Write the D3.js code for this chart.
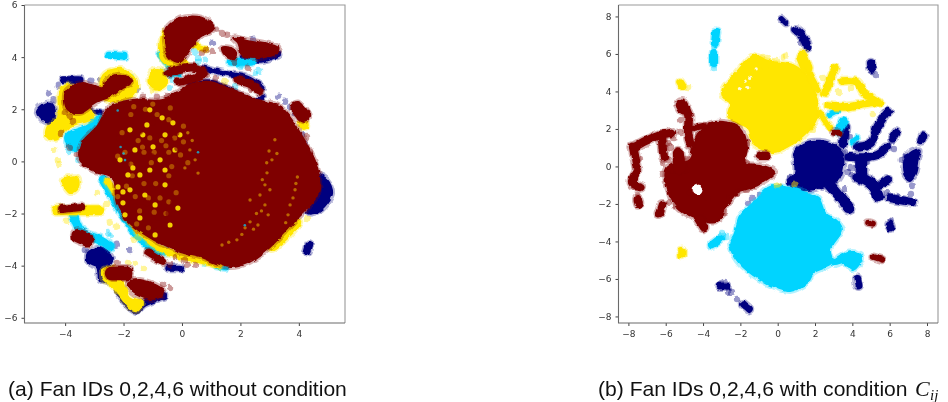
<!DOCTYPE html>
<html><head><meta charset="utf-8">
<script src="https://cdnjs.cloudflare.com/ajax/libs/d3/7.8.5/d3.min.js"></script>
<style>html,body{margin:0;background:#fff}svg{display:block}</style></head>
<body><svg id="c" width="948" height="402">
<defs><filter id="rough" x="-3%" y="-3%" width="106%" height="106%">
<feTurbulence type="fractalNoise" baseFrequency="0.13" numOctaves="2" seed="3" result="n"/>
<feDisplacementMap in="SourceGraphic" in2="n" scale="4.5" xChannelSelector="R" yChannelSelector="G"/>
<feGaussianBlur stdDeviation="0.45"/></filter></defs></svg>
<script>
// ---------- axis ticks ----------
const leftXTicks=[-4,-2,0,2,4], leftYTicks=[-6,-4,-2,0,2,4,6];
const rightXTicks=[-8,-6,-4,-2,0,2,4,6,8], rightYTicks=[-8,-6,-4,-2,0,2,4,6,8];
const captionA="(a) Fan IDs 0,2,4,6 without condition";
const captionB="(b) Fan IDs 0,2,4,6 with condition";

// ---------- LEFT PANEL: dense regions (outlines), streaks and stray points, in data units ----------
const leftNavyAreas=[
 [[-4.97,1.9],[-4.79,2.17],[-4.52,2.25],[-4.35,1.98],[-4.42,1.52],[-4.69,1.52]],
 [[-3.22,-3.51],[-2.81,-3.32],[-2.4,-3.7],[-2.57,-4.17],[-2.47,-4.63],[-2.81,-4.55],[-2.91,-4.09],[-3.22,-3.9]],
 [[4.62,-0.52],[4.97,-0.71],[5.14,-1.21],[4.97,-1.59],[4.62,-1.94],[4.28,-1.98],[4.62,-1.36]]];
const leftNavyThin=[
 [[0.72,3.59],[1.4,3.4],[2.23,3.2],[2.77,2.82]],
 [[0.27,2.94],[0.96,3.05],[1.54,2.8],[2.1,2.45],[2.57,2.32],[2.77,2.5]],
 [[2.1,4.0],[2.7,3.88],[3.3,4.1]],[[-3.25,1.98],[-2.8,1.85]],[[-3.1,0.9],[-2.8,1.2]]];
const leftNavyMid=[
 [[-4.08,3.13],[-3.49,3.13]],[[4.35,-3.17],[4.28,-3.47]],[[-0.45,-4.1],[-0.05,-4.1]],
 [[-2.2,-5.0],[-1.6,-5.7],[-1.3,-5.45],[-0.6,-5.15]]];
const leftNavyDots=[[-4.4,2.35],[-1.55,2.75],[-3.1,3.1],[-2.8,3.1],[2.43,4.67],[1.06,4.55],[3.29,2.48],[3.53,2.29],[3.7,2.09],[4.11,1.02],[4.21,0.7],
 [-1.34,-3.09],[-1.78,-3.4],[-2.23,-3.2],[-3.29,-3.4],[-1.1,-3.05],[-4.55,2.6],[-4.25,2.9],[-0.9,-3.2],[-0.6,-3.45],[3.85,1.85],[-1.7,2.7]];
const leftCyanAreas=[
 [[-3.95,1.0],[-3.3,1.35],[-2.8,1.75],[-2.65,1.3],[-3.2,0.6],[-3.8,0.45]]];
const leftCyanMid=[
 [[-2.5,4.07],[-1.95,4.03]],[[-0.85,3.35],[-0.1,3.4]],
 [[-0.75,4.1],[-0.35,3.55]],[[1.65,3.8],[2.4,3.8]],[[1.2,-4.0],[1.5,-4.05]],[[-2.5,2.5],[-2.05,2.45]]];
const leftCyanWide=[
 [[-3.75,-1.9],[-3.45,-2.7],[-2.85,-3.0],[-2.45,-3.3]],
 [[-2.7,-0.7],[-2.3,-1.47],[-1.88,-2.25],[-1.1,-3.27],[-0.6,-3.45]]];
const leftCyanDots=[[0.45,4.2],[0.55,3.97],[0.79,3.9],[0.55,3.82],[1.64,3.82],[1.99,3.63],[2.09,3.67],[2.5,3.4],[2.64,3.47],[1.82,2.86],
 [-0.65,4.01],[-0.58,3.78],[-0.41,2.82],[-0.34,3.13],[-0.75,3.44],[-1.71,3.24],[-1.75,2.78],[-2.53,-2.71],[-2.47,-2.82],[0.79,-3.93],[-3.9,0.4],[-3.55,0.05]];
const leftYellowAreas=[
 [[-4.18,2.74],[-3.77,2.94],[-3.15,1.98],[-3.05,1.67],[-3.84,1.32],[-4.35,0.83],[-4.62,0.94],[-4.62,1.29],[-4.25,1.71]],
 [[-2.7,3.3],[-2.1,3.55],[-1.55,3.1],[-1.7,2.5],[-2.7,2.4]],
 [[-1.1,2.95],[-1.0,3.5],[-0.7,3.5],[-0.55,3.0],[-0.85,2.75]],
 [[-0.75,4.4],[-0.6,5.0],[-0.1,4.2],[0.2,3.6],[-0.3,3.6],[-0.7,3.9]],
 [[-4.08,-0.71],[-3.6,-0.6],[-3.56,-1.02],[-3.84,-1.21]],
 [[-2.71,-4.17],[-2.29,-4.09],[-1.78,-5.2],[-1.37,-5.39],[-1.54,-5.7],[-1.78,-5.62],[-2.36,-4.82],[-2.71,-4.49]],
 [[3.8,-2.2],[4.05,-2.3],[3.6,-2.95],[3.05,-3.4],[2.9,-3.05]]];
const leftYellowThin=[
 [[-2.55,-0.75],[-2.1,-1.55],[-1.75,-2.3],[-1.0,-3.15],[-0.3,-3.55],[0.6,-3.8],[1.3,-4.0]],[[0.3,4.5],[0.8,4.3]]];
const leftYellowWide=[[[-4.3,-1.87],[-2.8,-1.87]],[[4.15,1.5],[4.17,1.4]]];
const leftYellowDots=[[-4.38,0.44],[-4.25,0.06],[-4.21,-0.1],[-2.47,3.44],[-1.03,2.74],[1.47,3.05],[-2.91,-1.21],[-2.57,-1.63],[-2.47,-2.32],[-2.26,-2.51],
 [-3.94,-2.28],[-1.85,-3.9],[-1.61,-3.93],[-1.3,-4.09],[-2.23,-5.01],[-1.68,-3.01],[-1.51,-2.94],[1.06,-3.97],[4.28,-2.21]];
const leftMaroonAreas=[
 [[0.27,2.94],[0.96,3.05],[1.54,2.82],[2.57,2.36],[3.36,2.09],[4.04,1.09],[4.62,-0.21],[4.66,-1.21],[3.8,-2.36],[3.01,-3.28],[2.23,-3.9],[1.64,-4.05],[0.62,-3.67],[-0.07,-3.47],[-1.2,-2.85],[-1.88,-2.25],[-2.23,-1.59],[-2.36,-0.63],[-3.05,-0.33],[-3.49,0.06],[-3.42,0.71],[-2.91,1.32],[-2.47,2.09],[-1.68,2.36],[-0.65,2.36]],
 [[-0.58,4.55],[-0.51,5.12],[-0.17,5.43],[0.51,5.55],[0.96,5.32],[1.06,5.05],[0.62,4.78],[0.27,4.28],[-0.07,3.82],[-0.41,3.97]],
 [[1.75,4.74],[2.23,4.66],[3.29,4.36],[3.25,4.17],[2.67,3.97],[2.09,4.09],[1.92,4.55]],
 [[1.37,4.36],[1.82,4.28],[1.82,3.97],[1.47,4.09]],
 [[-3.94,2.74],[-3.39,3.01],[-2.71,2.82],[-2.57,3.13],[-2.12,3.32],[-1.71,3.05],[-2.02,2.86],[-2.36,2.55],[-2.91,2.28],[-3.49,1.86],[-3.9,1.98],[-4.01,2.36]],
 [[-1.85,-4.66],[-1.44,-4.55],[-0.65,-4.93],[-0.65,-5.12],[-1.1,-5.28],[-1.68,-5.01]]];
const leftMaroonMid=[
 [[-0.5,3.4],[0.0,3.55],[0.4,3.6],[0.75,3.4],[0.4,3.2],[-0.1,3.05]],
 [[1.9,3.12],[2.3,3.0],[2.65,2.72]],[[-1.15,-3.5],[-0.65,-3.85]],[[-4.1,-1.83],[-3.45,-1.75]]];
const leftMaroonWide=[[[3.95,2.05],[4.15,1.75]],[[-3.55,-2.85],[-3.25,-3.0]],[[-2.4,-4.3],[-1.9,-4.3]]];
const leftMaroonDots=[[-1.34,2.48],[-0.86,2.48],[-0.51,2.51],[-0.31,2.44],[-0.17,3.13],[-4.14,1.09],[-4.01,1.86],[-3.84,1.71],[-3.73,1.55],[-3.84,0.52],[-3.6,0.25],
 [1.2,5.09],[1.37,4.93],[1.54,4.86],[1.06,4.2],[0.82,4.28],[0.68,4.17],[1.78,3.78],[2.26,3.59],[1.16,3.2],[0.89,3.32],[2.33,2.78],
 [-2.23,-3.9],[-0.41,-4.82],[-0.65,-4.7],[-0.24,-3.67],[-0.41,-3.97],[0.17,-3.97],[0.45,-3.97],[0.1,-3.78],[4.28,0.94],[4.38,0.36]];
const leftBandDark=[[-1.5,1.9],[-1.0,1.5],[-0.6,1.3],[-1.6,1.55],[-0.9,0.95],[-1.2,0.7],[-0.4,0.8],[-1.8,0.8],[-1.5,0.2],[-1.05,0.2],[-0.5,0.1],[-1.9,-0.1],[-1.3,-0.1],[-0.8,-0.2],[-2.0,-0.7],[-1.55,-0.75],[-1.1,-0.7],[-0.75,-0.65],[-1.8,-1.4],[-1.45,-1.05],[-1.0,-1.05],[-0.6,-1.25],[-1.6,-1.75],[-1.2,-1.6],[-0.65,-1.75],[-1.7,-2.1],[-1.15,-2.1],[-0.8,-2.15],[-1.35,-2.55],[-0.3,1.75],[-0.15,0.5],
 [-1.9,2.0],[-0.7,2.0],[-0.2,1.1],[-0.1,0.0],[-0.3,-0.75],[-0.45,-2.0],[-2.1,-0.35],[-2.15,0.9],[-2.05,1.75],[-1.85,-1.85],[-0.95,-2.45],[-0.6,-2.45],[-1.3,1.75],[-1.45,1.15],[-0.75,0.55],[-1.25,-1.95],[-0.3,-1.6]];
const leftBandGold=[[-1.2,1.4],[-1.34,1.02],[-0.99,0.56],[-0.68,1.67],[-0.58,1.02],[-0.31,1.48],[-1.68,-0.25],[-1.1,-0.33],[-1.85,-0.52],[-0.58,-0.9],[-1.44,-2.17],[-0.14,-1.79],[-2.19,-0.98],[-2.02,-1.59],[-2.02,-1.17],[-1.78,1.21],[-1.1,1.98],[-1.61,0.44],[-0.75,0.06],[-0.24,0.44],[-1.95,-2.05],[-0.92,-2.82],[-0.41,-2.44],[-1.27,-1.29],[-1.78,-1.09],[-0.92,-1.67],[-1.44,-0.52],[-0.58,-0.33],[-2.12,0.06],[-0.07,1.02]];
const leftBandRing=[[-1.75,1.8],[-1.25,2.0],[-0.85,1.8],[-0.45,1.6],[-1.5,0.8],[-1.1,0.9],[-0.7,0.8],[-0.25,0.9],[-1.95,0.35],[-1.3,0.35],[-0.45,0.35],[-1.75,-0.1],[-1.05,-0.05],[-0.35,-0.2],[-1.9,-0.95],[-1.3,-0.85],[-0.9,-0.85],[-0.45,-0.55],[-1.6,-1.35],[-1.15,-1.4],[-0.75,-1.4],[-0.45,-1.55],[-1.45,-1.9],[-0.95,-1.95],[-0.55,-2.0],[-1.55,-2.4],[-1.15,-2.55],[0.05,0.75],[0.2,-0.05],
 [-2.05,1.1],[-2.2,0.2],[-1.65,2.1],[-1.0,2.2],[-0.4,2.05],[0.05,1.35],[-0.05,0.25],[-0.2,-1.2],[-2.2,-1.35],[-1.7,-0.55],[-0.95,0.35],[-0.55,0.6],[-1.35,0.55]];
const leftFineGold=[[2.91,-0.44],[2.84,-0.9],[2.67,-1.29],[2.84,-1.67],[2.95,-2.05],[2.33,-2.32],[2.6,-2.44],[2.16,-2.55],[1.88,-3.01],[1.37,-3.21],[3.87,-1.09],[3.7,-1.67],[3.63,-2.05],[3.08,0.06],[3.18,0.83],[0.27,0.44],[0.45,0.06],[0.1,-0.25],[2.33,-1.48],[3.01,-1.09],[3.95,-0.6],[2.55,-2.0],
 [2.98,0.4],[2.9,-0.05],[2.75,-0.7],[2.72,-1.9],[2.45,-2.6],[2.05,-2.8],[1.6,-3.1],[3.9,-0.85],[3.8,-1.4],[3.55,-2.35],[3.25,0.3],[0.35,0.8],[0.2,1.1],[0.55,-0.45]];
const leftFineCyan=[[-2.2,1.95],[-2.1,0.55],[-2.0,0.3],[-1.95,0.05],[2.15,-2.45],[0.55,0.35]];

// ---------- RIGHT PANEL ----------
const rightNavyAreas=[
 [[0.93,0.72],[1.62,1.31],[2.8,1.25],[3.44,0.77],[3.5,-0.03],[3.23,-0.72],[2.43,-1.09],[1.73,-1.25],[1.09,-1.25],[0.55,-0.83],[0.93,-0.35]],
 [[7.05,0.72],[7.6,0.9],[7.5,0.35],[7.35,-0.4],[7.05,-0.72],[6.75,-0.35],[6.8,0.3]]];
const rightNavyThin=[[[0.2,7.85],[0.4,7.65]]];
const rightNavyMid=[
 [[3.6,2.1],[3.5,1.2]],[[4.25,1.05],[5.0,1.25],[5.3,2.05],[5.9,2.9]],[[3.85,0.5],[5.3,0.6],[5.85,1.05]],
 [[6.0,-1.7],[7.2,-1.9]],[[5.55,-0.95],[5.9,-0.7]],[[6.35,1.8],[6.15,1.5]],[[7.8,1.65],[7.7,1.4]],[[5.0,5.5],[5.05,5.15]],
 [[0.95,7.3],[1.2,7.1],[1.55,6.6],[1.6,6.35]],[[4.27,-6.0],[4.33,-6.35]],[[6.0,-3.1],[6.05,-3.25]],[[-3.1,-6.4],[-2.75,-6.4]],[[-1.85,-7.35],[-1.55,-7.6]]];
const rightNavyWide=[[[2.8,-1.0],[3.3,-1.6],[3.8,-2.25]],[[4.3,-0.55],[5.1,-1.0],[5.4,-1.6]],[[4.5,0.3],[4.5,-0.6]]];
const rightNavyDots=[[5.0,5.05],[5.26,4.88],[1.2,6.6],[0.87,7.33],[6.05,-2.9],[-2.88,-6.16],[-2.66,-6.69],[-2.45,-6.69],[-2.18,-7.07],[-2.72,-6.48],
 [3.6,-1.2],[0.66,-0.56],[0.12,-1.09],[5.85,-1.42],[6.38,-1.57],[7.14,-1.47],[7.24,-1.04],[3.98,-0.45],[3.77,-0.29],[6.23,0.93],[6.12,1.31],[6.65,0.35],[6.82,0.19],[6.92,0.51],[5.58,2.64],[3.6,0.77],[3.71,0.45],[3.87,-0.08],[4.2,-0.08],[3.87,1.57],[4.84,0.19],[-1.38,-1.68],[-1.0,-1.52],[-1.59,-1.95]];
const rightCyanAreas=[
 [[-0.41,-1.09],[-1.32,-1.95],[-2.02,-2.69],[-2.29,-3.55],[-2.55,-4.19],[-2.18,-4.99],[-1.32,-5.79],[-0.04,-6.48],[0.66,-6.64],[1.57,-6.21],[1.89,-5.68],[2.91,-5.15],[2.8,-4.45],[3.44,-3.39],[3.23,-2.96],[2.53,-2.48],[2.16,-1.68],[1.36,-1.36],[0.66,-1.15]],
 [[2.96,-5.09],[3.98,-4.51],[4.52,-4.83],[4.03,-5.52],[3.6,-5.15],[3.07,-5.25]]];
const rightCyanThin=[[[2.75,2.75],[3.15,2.95]],[[4.0,1.3],[4.25,1.5]]];
const rightCyanMid=[[[-3.3,7.17],[-3.36,6.59]],[[-3.41,6.05],[-3.41,5.52]],[[-3.52,-4.2],[-3.09,-3.87]],[[3.53,2.4],[3.2,1.85]]];
const rightCyanDots=[[-2.98,-3.55],[-2.77,-3.76],[-2.98,-3.65],[-3.42,5.2],[-3.4,6.4]];
const rightYellowAreas=[
 [[-1.32,5.95],[-1.64,5.68],[-2.18,5.04],[-2.93,4.19],[-2.93,3.71],[-2.55,3.39],[-2.66,2.75],[-2.29,2.37],[-1.59,2.05],[-1.38,1.31],[-0.25,0.77],[0.5,1.04],[1.57,1.79],[2.1,2.64],[2.1,3.55],[1.6,4.77],[0.8,5.41],[-0.41,5.6],[-1.11,5.9]]];
const rightYellowThin=[[[1.55,5.2],[2.16,4.08]],[[2.27,2.85],[2.8,2.05]]];
const rightYellowMid=[
 [[3.07,5.25],[2.53,3.92]],[[2.7,3.23],[3.6,3.17],[5.0,3.4],[5.45,3.39]],[[5.4,3.45],[4.6,3.97],[4.25,4.5],[3.45,4.56]],[[-5.23,4.5],[-5.1,4.3]],[[-5.13,-4.5],[-5.13,-4.72]]];
const rightYellowWide=[[[1.3,5.85],[1.55,5.25]]];
const rightYellowDots=[[-0.09,5.68],[0.28,5.84],[0.44,5.9],[3.28,3.97],[3.93,4.19],[2.43,4.72],[5.1,2.8],[1.89,1.95],[1.36,5.09],[-0.79,5.84],[-0.52,5.79],[-0.68,5.25],[-4.8,4.24]];
const rightHoles=[[-1.75,4.55],[-1.45,4.75],[-2.05,4.15],[-1.6,4.2],[-1.15,5.2]];
const rightMaroonAreas=[
 [[-2.93,2.37],[-3.79,2.21],[-4.54,1.04],[-4.7,0.35],[-5.93,-0.08],[-5.88,-1.25],[-5.23,-2.32],[-3.25,-2.96],[-2.72,-2.05],[-2.18,-1.41],[-1.22,-1.04],[-0.14,-0.29],[-0.95,0.08],[-1.75,0.19],[-1.64,1.04],[-2.02,2.05]]];
const rightMaroonThin=[[[3.0,1.8],[3.3,1.8]],[[4.85,-3.0],[5.1,-3.05]],[[5.15,-4.83],[5.6,-4.97]],[[-4.54,2.05],[-4.0,2.16]]];
const rightMaroonMid=[
 [[-5.13,3.28],[-4.8,2.8],[-4.8,1.77],[-4.7,1.25]],[[-7.64,1.04],[-7.2,1.3],[-6.3,1.68],[-5.66,1.79]],[[-6.2,1.68],[-6.15,0.88],[-6.1,0.5]],
 [[-7.75,1.04],[-7.64,0.5],[-7.55,0.0]],[[-7.5,-0.2],[-7.8,-0.85],[-7.35,-1.1]],[[-7.5,-1.75],[-7.45,-2.0]],[[-6.2,-2.05],[-6.35,-2.5]],
 [[-0.95,0.57],[-0.6,0.57]],[[-4.2,-2.85],[-3.95,-3.25]],[[-5.0,-0.1],[-5.6,-0.1]]];
const rightMaroonWide=[[[-5.35,0.7],[-5.25,-0.05]],[[-5.15,3.3],[-5.05,3.1]]];
const rightMaroonDots=[[-5.23,2.48],[-5.23,1.84],[-5.6,1.52],[-5.87,1.25],[-5.77,1.04],[-5.87,0.35],[-6.14,0.19],[-4.87,0.35],[-4.27,1.68],[-3.89,2.21],[-1.65,1.25],[-1.65,0.19],[-7.38,0.35],[-7.75,0.77],
 [-6.2,-0.4],[-5.87,-1.89],[-5.5,-2.05],[-7.53,-1.52],[-7.38,-1.09],[-7.64,-1.15],[-4.05,-2.69],[-4.7,-1.36],[-3.79,-1.68],[-2.18,-1.41],[-2.82,-2.43],[-2.66,-1.79],[-1.65,-1.25]];
const rightMaroonHoles=[[-4.27,-1.25]];
const rightMixedDots=[[0.0,-1.02],[0.9,-0.98]];

// ---------- drawing ----------
const NAVY="#00007f",CYAN="#00d4ff",YELLOW="#ffe600",MAROON="#7f0000";
const svg=d3.select("#c");

function panel(left,right,top,bottom,xd,yd,xt,yt){
  const x=d3.scaleLinear().domain(xd).range([left,right]);
  const y=d3.scaleLinear().domain(yd).range([bottom,top]);
  let g=svg.append("g").attr("filter","url(#rough)");
  const line=d3.line().x(d=>x(d[0])).y(d=>y(d[1])).curve(d3.curveCatmullRom.alpha(.5));
  const area=d3.line().x(d=>x(d[0])).y(d=>y(d[1])).curve(d3.curveCatmullRomClosed.alpha(.5));
  const p={x,y,
   smooth(){g=svg.append("g").style("filter","blur(0.5px)");return p},
   areas(a,c,o=1){
     g.selectAll(null).data(a).join("path").attr("d",area).attr("fill","none").attr("stroke",c).attr("stroke-opacity",.3*o).attr("stroke-width",6).attr("stroke-linejoin","round");
     g.selectAll(null).data(a).join("path").attr("d",area).attr("fill",c).attr("fill-opacity",o).attr("stroke",c).attr("stroke-opacity",o).attr("stroke-width",2).attr("stroke-linejoin","round");return p},
   streaks(a,c,w){
     g.selectAll(null).data(a).join("path").attr("d",line).attr("fill","none").attr("stroke",c).attr("stroke-opacity",.3).attr("stroke-width",w+3).attr("stroke-linecap","round").attr("stroke-linejoin","round");
     g.selectAll(null).data(a).join("path").attr("d",line).attr("fill","none").attr("stroke",c).attr("stroke-width",w).attr("stroke-linecap","round").attr("stroke-linejoin","round");return p},
   dots(a,c,o=.4,r=3.2){g.selectAll(null).data(a).join("circle").attr("cx",d=>x(d[0])).attr("cy",d=>y(d[1])).attr("r",r).attr("fill",c).attr("fill-opacity",o);return p},
   axes(){
     const ax=svg.append("g").style("filter","blur(0.3px)");
     const fmt=d=>String(d).replace("-","\u2212");
     const xa=ax.append("g").attr("transform",`translate(0,${bottom})`).call(d3.axisBottom(x).tickValues(xt).tickSize(3).tickPadding(4.5).tickFormat(fmt));
     const ya=ax.append("g").attr("transform",`translate(${left},0)`).call(d3.axisLeft(y).tickValues(yt).tickSize(3).tickPadding(4).tickFormat(fmt));
     [xa,ya].forEach(s=>{s.selectAll("path").remove();s.selectAll("line").attr("stroke","#444");s.selectAll("text").attr("fill","#333").attr("font-family","DejaVu Sans").attr("font-size",9)});
     ax.append("path").attr("d",`M${left},${top}H${right}V${bottom}`).attr("fill","none").attr("stroke","#9a9a9a").attr("stroke-width",1.1);
     ax.append("path").attr("d",`M${left},${top}V${bottom}H${right}`).attr("fill","none").attr("stroke","#6a6a6a").attr("stroke-width",1.1);
     return p}
  };
  return p;
}

// left panel: navy, cyan, yellow, then maroon on top
const L=panel(24.5,345,5,323,[-5.39,5.58],[-6.2,6],leftXTicks,leftYTicks);
L.areas(leftNavyAreas,NAVY).streaks(leftNavyThin,NAVY,5).streaks(leftNavyMid,NAVY,7).dots(leftNavyDots,NAVY)
 .areas(leftCyanAreas,CYAN).streaks(leftCyanMid,CYAN,7).streaks(leftCyanWide,CYAN,9).dots(leftCyanDots,CYAN)
 .areas(leftYellowAreas,YELLOW).streaks(leftYellowThin,YELLOW,6).streaks(leftYellowWide,YELLOW,10).dots(leftYellowDots,YELLOW)
 .areas(leftMaroonAreas,MAROON).streaks(leftMaroonMid,MAROON,8).streaks(leftMaroonWide,MAROON,14).dots(leftMaroonDots,MAROON)
 .smooth()
 .dots(leftBandRing,"#c06a00",.7,2.6).dots(leftBandGold,YELLOW,.9,2.6).dots(leftBandDark,MAROON,.6,3.3)
 .dots(leftFineGold,"#d08a00",.75,1.7).dots(leftFineCyan,CYAN,.7,1.3).axes();

// right panel
const R=panel(618.5,938,5,323,[-8.53,8.59],[-8.35,8.61],rightXTicks,rightYTicks);
R.areas(rightNavyAreas,NAVY).streaks(rightNavyThin,NAVY,6).streaks(rightNavyMid,NAVY,8).streaks(rightNavyWide,NAVY,11).dots(rightNavyDots,NAVY)
 .areas(rightCyanAreas,CYAN).streaks(rightCyanThin,CYAN,5).streaks(rightCyanMid,CYAN,8).dots(rightCyanDots,CYAN)
 .areas(rightYellowAreas,YELLOW).streaks(rightYellowThin,YELLOW,6).streaks(rightYellowMid,YELLOW,7.5).streaks(rightYellowWide,YELLOW,12).dots(rightYellowDots,YELLOW).dots(rightHoles,"#ffffff",.85,1.6)
 .dots(rightMixedDots,YELLOW,.5)
 .areas(rightMaroonAreas,MAROON).streaks(rightMaroonThin,MAROON,6).streaks(rightMaroonMid,MAROON,8.5).streaks(rightMaroonWide,MAROON,12).dots(rightMaroonHoles,"#ffffff",1,5.5).dots(rightMaroonDots,MAROON).axes();

// captions
const cap=svg.append("g").attr("font-family","Liberation Sans").attr("fill","#111").attr("font-size",21.1).style("filter","blur(0.3px)");
cap.append("text").attr("x",8).attr("y",396).text(captionA);
cap.append("text").attr("x",598).attr("y",396).text(captionB);
cap.append("text").attr("x",915).attr("y",396).attr("font-family","Liberation Serif").attr("font-style","italic").attr("font-size",22).text("C");
cap.append("text").attr("x",930).attr("y",400).attr("font-family","Liberation Serif").attr("font-style","italic").attr("font-size",15).text("ij");
</script></body></html>
